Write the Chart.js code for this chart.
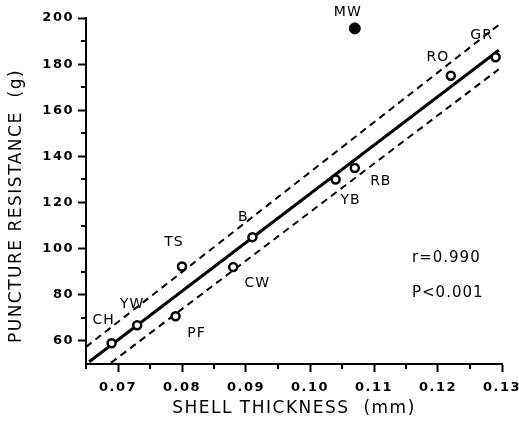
<!DOCTYPE html>
<html>
<head>
<meta charset="utf-8">
<script src="https://cdn.jsdelivr.net/npm/chart.js@4/dist/chart.umd.min.js"></script>
<style>
  html, body { margin: 0; padding: 0; background: #fff; }
  #wrap { width: 519px; height: 429px; position: relative; }
</style>
</head>
<body>
<div id="wrap"><canvas id="c" width="519" height="429"></canvas></div>
<script>
// ---- data ----
const species = ['CH', 'YW', 'PF', 'TS', 'CW', 'B', 'YB', 'RB', 'RO', 'GR'];
const thickness = [0.069, 0.073, 0.079, 0.080, 0.088, 0.091, 0.104, 0.107, 0.122, 0.129];
const resistance = [59, 66.8, 70.7, 92.3, 92, 105, 130, 135, 175, 183];

const outlierSpecies = ['MW'];
const outlierThickness = [0.107];
const outlierResistance = [195.5];

const fitX = [0.0655, 0.1295];
const fitY = [51, 186];
const upperX = [0.065, 0.1295];
const upperY = [57.4, 197];
const lowerX = [0.0689, 0.1295];
const lowerY = [50.5, 177.8];

const xTickValues = [0.07, 0.08, 0.09, 0.10, 0.11, 0.12, 0.13];
const xMinorValues = [0.065, 0.075, 0.085, 0.095, 0.105, 0.115, 0.125];
const yTickValues = [60, 80, 100, 120, 140, 160, 180, 200];
const yMinorValues = [70, 90, 110, 130, 150, 170, 190];

const xTitle = 'SHELL THICKNESS  (mm)';
const yTitle = 'PUNCTURE RESISTANCE  (g)';
const statLines = ['r=0.990', 'P<0.001'];

const toPts = (xs, ys) => xs.map((x, i) => ({ x: x, y: ys[i] }));

// label offsets (pixels from point)
const labelOffsets = {
  CH: [-8, -23], YW: [-5, -21], PF: [21, 17], TS: [-8, -24], CW: [24, 16],
  B: [-9, -20], YB: [15, 21], RB: [26, 13], RO: [-13, -18], GR: [-14, -22], MW: [-7, -16]
};

const spacingPlugin = {
  id: 'spacing',
  beforeUpdate(chart) { chart.ctx.letterSpacing = '1.5px'; },
  beforeDraw(chart) { chart.ctx.letterSpacing = '1.5px'; }
};

const decorPlugin = {
  id: 'decor',
  afterDraw(chart) {
    const ctx = chart.ctx;
    const xs = chart.scales.x, ys = chart.scales.y;
    const area = chart.chartArea;
    ctx.save();
    // minor ticks
    ctx.strokeStyle = '#000';
    ctx.lineWidth = 2;
    ctx.beginPath();
    yMinorValues.forEach(v => {
      const py = Math.round(ys.getPixelForValue(v));
      ctx.moveTo(area.left - 5, py); ctx.lineTo(area.left, py);
    });
    xMinorValues.forEach(v => {
      const px = Math.round(xs.getPixelForValue(v));
      ctx.moveTo(px, area.bottom); ctx.lineTo(px, area.bottom + 5);
    });
    ctx.stroke();

    // point labels
    ctx.fillStyle = '#000';
    ctx.letterSpacing = '1px';
    ctx.font = '14px "DejaVu Sans"';
    ctx.textAlign = 'center';
    ctx.textBaseline = 'middle';
    const drawLabels = (names, tx, ry) => {
      names.forEach((n, i) => {
        const px = xs.getPixelForValue(tx[i]);
        const py = ys.getPixelForValue(ry[i]);
        const o = labelOffsets[n] || [0, -15];
        ctx.fillText(n, px + o[0], py + o[1]);
      });
    };
    drawLabels(species, thickness, resistance);
    drawLabels(outlierSpecies, outlierThickness, outlierResistance);

    // stats
    ctx.textAlign = 'left';
    ctx.font = '15px "DejaVu Sans"';
    ctx.fillText(statLines[0], 412, 258);
    ctx.fillText(statLines[1], 412, 293);

    // axis titles
    ctx.font = '17px "DejaVu Sans"';
    ctx.letterSpacing = '1.5px';
    ctx.textAlign = 'center';
    ctx.fillText(xTitle, (area.left + area.right) / 2, 409);
    ctx.save();
    ctx.translate(17, 206);
    ctx.rotate(-Math.PI / 2);
    ctx.fillText(yTitle, 0, 0);
    ctx.restore();
    ctx.restore();
  }
};

new Chart(document.getElementById('c'), {
  type: 'scatter',
  data: {
    datasets: [
      {
        label: 'species',
        data: toPts(thickness, resistance),
        pointRadius: 4,
        pointBorderWidth: 2.5,
        pointBorderColor: '#000',
        pointBackgroundColor: '#fff',
        showLine: false
      },
      {
        label: 'MW',
        data: toPts(outlierThickness, outlierResistance),
        pointRadius: 5.5,
        pointBorderWidth: 1,
        pointBorderColor: '#000',
        pointBackgroundColor: '#000',
        showLine: false
      },
      {
        label: 'fit',
        data: toPts(fitX, fitY),
        showLine: true,
        borderColor: '#000',
        borderWidth: 3,
        pointRadius: 0,
        fill: false
      },
      {
        label: 'upper',
        data: toPts(upperX, upperY),
        showLine: true,
        borderColor: '#000',
        borderWidth: 2,
        borderDash: [7, 5],
        pointRadius: 0,
        fill: false
      },
      {
        label: 'lower',
        data: toPts(lowerX, lowerY),
        showLine: true,
        borderColor: '#000',
        borderWidth: 2,
        borderDash: [7, 5],
        pointRadius: 0,
        fill: false
      }
    ]
  },
  options: {
    responsive: false,
    animation: false,
    events: [],
    layout: { padding: { top: 18, right: 17, left: 0, bottom: 0 } },
    plugins: { legend: { display: false }, tooltip: { enabled: false } },
    scales: {
      x: {
        type: 'linear',
        min: 0.065,
        max: 0.13,
        afterBuildTicks: s => { s.ticks = xTickValues.map(v => ({ value: v })); },
        afterFit: s => { s.height = 65; s.paddingLeft = 0; s.paddingRight = 0; },
        border: { display: true, color: '#000', width: 2 },
        grid: { drawOnChartArea: false, drawTicks: true, tickLength: 8, tickWidth: 2, tickColor: '#000' },
        ticks: {
          autoSkip: false, maxRotation: 0, padding: 8, color: '#000',
          font: { family: 'DejaVu Sans', size: 13, weight: 'bold' },
          callback: v => Number(v).toFixed(2)
        }
      },
      y: {
        type: 'linear',
        min: 50,
        max: 200,
        afterBuildTicks: s => { s.ticks = yTickValues.map(v => ({ value: v })); },
        afterFit: s => { s.width = 86; s.paddingTop = 0; s.paddingBottom = 0; },
        border: { display: true, color: '#000', width: 2 },
        grid: { drawOnChartArea: false, drawTicks: true, tickLength: 8, tickWidth: 2, tickColor: '#000' },
        ticks: {
          padding: 4, color: '#000',
          font: { family: 'DejaVu Sans', size: 13, weight: 'bold' },
          callback: v => String(v)
        }
      }
    }
  },
  plugins: [spacingPlugin, decorPlugin]
});
</script>
</body>
</html>
